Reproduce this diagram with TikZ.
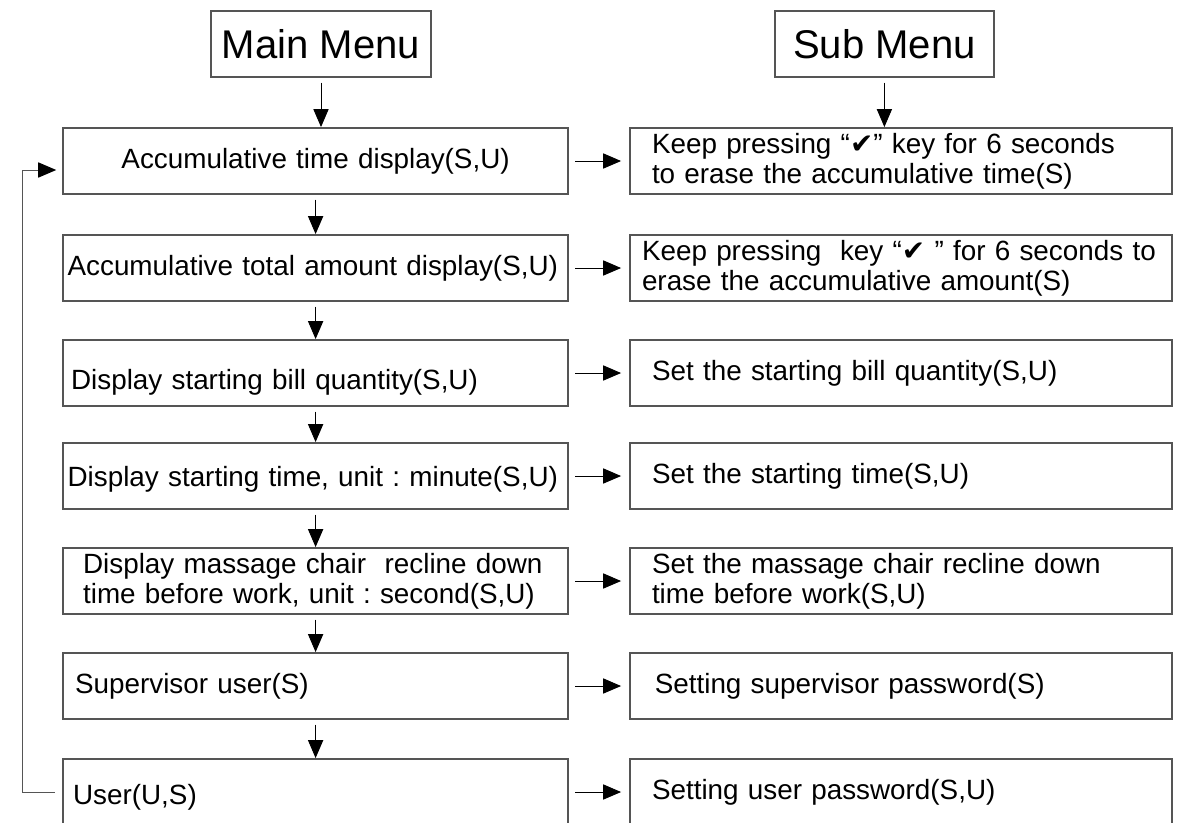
\documentclass[tikz,border=0pt]{standalone}
\usepackage{fontspec}
\setmainfont{Liberation Sans}
\newfontfamily\checkfont{DejaVu Sans}
\usepackage{tikz}
\usetikzlibrary{arrows.meta, positioning, calc}
\definecolor{boxgray}{RGB}{85,85,85}
\newcommand{\tick}{{\checkfont\char"2714}}
\frenchspacing
\tikzstyle{title} = [rectangle, draw=boxgray, line width=1.3pt, minimum width=5.5cm, minimum height=1.65cm, font=\fontsize{28.5}{30}\selectfont]
\tikzstyle{mainbox} = [rectangle, draw=boxgray, line width=1.3pt, minimum width=12.625cm, minimum height=1.65cm, inner xsep=0.1125cm, text width=12.4cm, align=left, font=\fontsize{19.8}{21.3}\selectfont]
\tikzstyle{subbox} = [rectangle, draw=boxgray, line width=1.3pt, minimum width=13.55cm, minimum height=1.65cm, inner xsep=0.55cm, text width=12.45cm, align=left, font=\fontsize{19.8}{21.3}\selectfont]
\tikzstyle{arrow} = [line width=0.7pt, -{Triangle[length=0.45cm, width=0.38cm, color=black]}]

\begin{document}
\begin{tikzpicture}

\clip (0,0) rectangle (29.7,-20.55);
\useasboundingbox (0,0) rectangle (29.7,-20.55);

% ===== HEADINGS =====
\node (mainmenu) [title] at (8.025, -1.1) {Main Menu};
\node (submenu) [title, minimum width=5.475cm] at (22.11, -1.1) {Sub Menu};

% ===== MAIN MENU =====
\node (acctime) [mainbox, align=center] at (7.89, -4.025) {Accumulative time display(S,U)};
\node (accamount) [mainbox] at (7.89, -6.7) {Accumulative total amount display(S,U)};
\node (billqty) [mainbox, inner xsep=0.2cm, text width=12.225cm, text height=0.95cm] at (7.89, -9.325) {Display starting bill quantity(S,U)};
\node (starttime) [mainbox, text height=0.65cm] at (7.89, -11.9) {Display starting time, unit : minute(S,U)};
\node (recline) [mainbox, inner xsep=0.5cm, text width=11.625cm] at (7.89, -14.525) {Display massage chair\ \ recline down\\time before work, unit : second(S,U)};
\node (supervisor) [mainbox, inner xsep=0.3cm, text width=12.025cm] at (7.89, -17.15) {Supervisor user(S)};
\node (user) [mainbox, inner xsep=0.25cm, text width=12.125cm, text height=0.75cm] at (7.89, -19.8) {User(U,S)};

% ===== SUB MENU =====
\node (erasetime) [subbox] at (22.525, -4.025) {Keep pressing \char"201C\tick\char"201D{} key for 6 seconds\\to erase the accumulative time(S)};
\node (eraseamount) [subbox, inner xsep=0.3cm, text width=12.95cm] at (22.525, -6.7) {Keep pressing\ \ key \char"201C\tick\ \char"201D{} for 6 seconds to\\erase the accumulative amount(S)};
\node (setbill) [subbox] at (22.525, -9.325) {Set the starting bill quantity(S,U)};
\node (settime) [subbox] at (22.525, -11.9) {Set the starting time(S,U)};
\node (setrecline) [subbox] at (22.525, -14.525) {Set the massage chair recline down\\time before work(S,U)};
\node (setsuper) [subbox, inner xsep=0.62cm, text width=12.31cm] at (22.525, -17.15) {Setting supervisor password(S)};
\node (setuser) [subbox] at (22.525, -19.8) {Setting user password(S,U)};

% ===== ARROWS =====
% headings down to first row
\draw [arrow, shorten <=0.12cm] (mainmenu.south) -- (mainmenu.south |- acctime.north);
\draw [arrow, shorten <=0.12cm] (submenu.south) -- (submenu.south |- erasetime.north);

% main menu chain
\draw [arrow, shorten <=0.12cm] (acctime) -- (accamount);
\draw [arrow, shorten <=0.12cm] (accamount) -- (billqty);
\draw [arrow, shorten <=0.12cm] (billqty) -- (starttime);
\draw [arrow, shorten <=0.12cm] (starttime) -- (recline);
\draw [arrow, shorten <=0.12cm] (recline) -- (supervisor);
\draw [arrow, shorten <=0.12cm] (supervisor) -- (user);

% main menu to sub menu
\draw [arrow, shorten <=0.15cm, shorten >=0.2cm] (acctime) -- (erasetime);
\draw [arrow, shorten <=0.15cm, shorten >=0.2cm] (accamount) -- (eraseamount);
\draw [arrow, shorten <=0.15cm, shorten >=0.2cm] (billqty) -- (setbill);
\draw [arrow, shorten <=0.15cm, shorten >=0.2cm] (starttime) -- (settime);
\draw [arrow, shorten <=0.15cm, shorten >=0.2cm] (recline) -- (setrecline);
\draw [arrow, shorten <=0.15cm, shorten >=0.2cm] (supervisor) -- (setsuper);
\draw [arrow, shorten <=0.15cm, shorten >=0.2cm] (user) -- (setuser);

% back from last item to the first
\draw [arrow, draw=boxgray, shorten <=0.18cm, shorten >=0.15cm] (user.west) -- ++(-1.0,0) |- ([yshift=-0.225cm]acctime.west);

\end{tikzpicture}
\end{document}
